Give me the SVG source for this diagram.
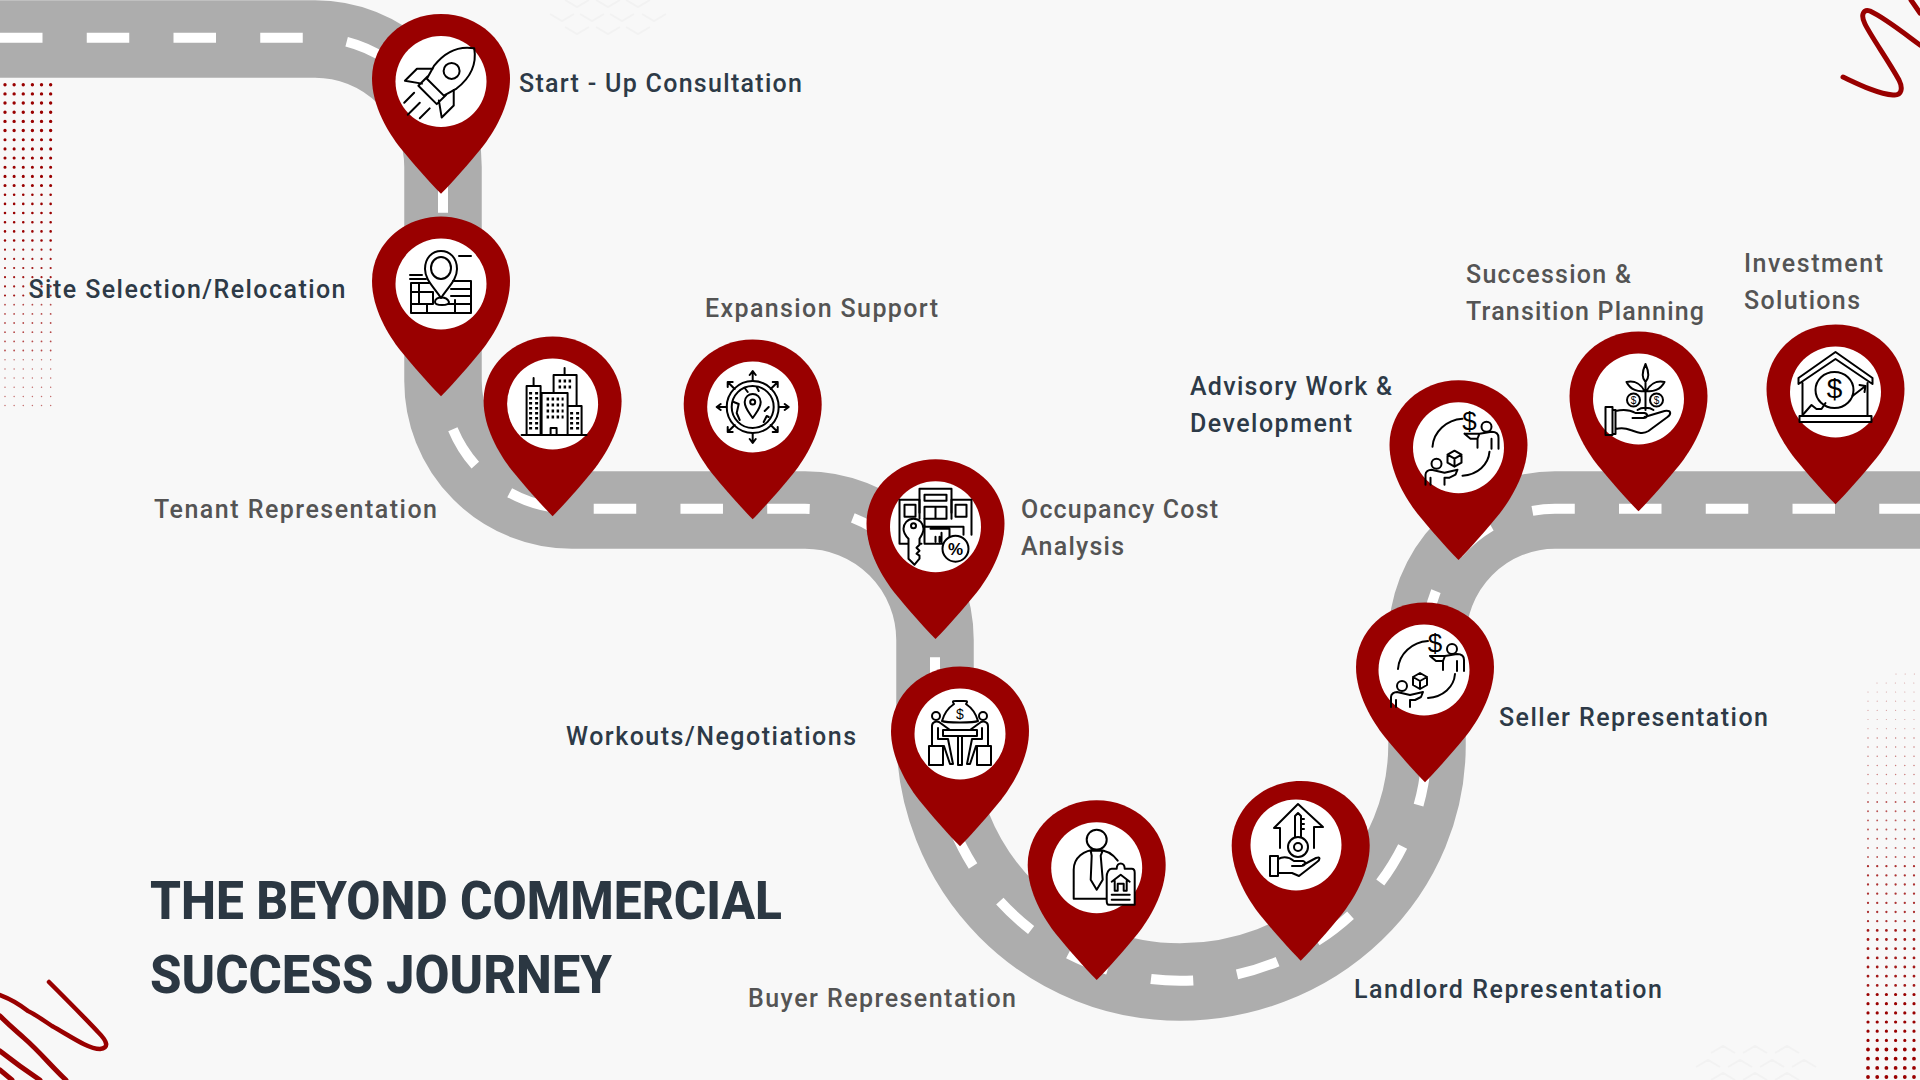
<svg xmlns="http://www.w3.org/2000/svg" xmlns:xlink="http://www.w3.org/1999/xlink" width="1920" height="1080" viewBox="0 0 1920 1080">
<style>
.bg{fill:#f8f8f8}
.road{fill:none;stroke:#adadad;stroke-width:77.5}
.dash{fill:none;stroke:#fff;stroke-width:10;stroke-dasharray:42.5 44.25}
.pin{fill:#990000}
.disc{fill:#fff}
.ic{fill:none;stroke:#000;stroke-width:2;stroke-linejoin:round;stroke-linecap:round}
.win{fill:none;stroke:#000;stroke-width:3;stroke-dasharray:2.5 2.5}
.sym{font-family:"Liberation Sans",Arial,sans-serif;fill:#000;stroke:none;text-anchor:middle}
.lb{font-family:Roboto,"Liberation Sans",sans-serif;font-weight:500;font-size:25px}
.d{fill:#2d3a47}
.g{fill:#545454}
.title{font-family:Roboto,"Liberation Sans",sans-serif;font-weight:800;font-size:53px;fill:#2b3742}
.squig{fill:none;stroke:#990000;stroke-linecap:round;stroke-linejoin:round}
.chev{fill:none;stroke:#f2f2f2;stroke-width:2}
.dots{fill:none;stroke:#990000;stroke-linecap:round}
</style>
<defs>
<path id="pin" class="pin" d="M0,112.3 C-12,100 -28,82 -41,66 C-52,52 -69,25 -69,-3 C-69,-39 -38,-67.5 0,-67.5 C38,-67.5 69,-39 69,-3 C69,25 52,52 41,66 C28,82 12,100 0,112.3 Z"/>
<g id="deal">
<path class="ic" d="M4,-29 C-12,-28 -25,-16 -26,-1 M31,4 C30,17 19,27 4,28"/>
<text class="sym" x="11" y="-18" font-size="26">$</text>
<circle class="ic" cx="28" cy="-21" r="5"/>
<path class="ic" d="M6,-14 L12,-9 L19,-9 V0 M19,-9 L21,-14 L33,-16 C37,-16 40,-14 40,-10 V1 M33,-9 V1 M6,-14 L21,-14"/>
<path class="ic" d="M-4,3 L3,7 V15 L-4,19 L-11,15 V7 Z M-11,7 L-4,11 L3,7 M-4,11 V19"/>
<circle class="ic" cx="-22" cy="16" r="5"/>
<path class="ic" d="M-33,37 V27 C-33,24 -30,22 -27,22 L-14,25 L-1,22 L-3,27 L-9,30 L-14,30 V37 M-28,30 V37"/>
</g>
</defs>
<rect class="bg" width="1920" height="1080"/>

<g id="texture">
<path class="chev" d="M565,0 L577,7 L589,0 M596,0 L608,7 L620,0 M626,0 L638,7 L650,0 M550,14 L562,21 L574,14 M580,14 L592,21 L604,14 M610,14 L622,21 L634,14 M642,14 L654,21 L666,14 M565,27 L577,34 L589,27 M596,27 L608,34 L620,27 M626,27 L638,34 L650,27"/>
<path class="chev" d="M1711,1053 L1723,1046 L1735,1053 M1743,1053 L1755,1046 L1767,1053 M1775,1053 L1787,1046 L1799,1053 M1696,1067 L1708,1060 L1720,1067 M1728,1067 L1740,1060 L1752,1067 M1760,1067 L1772,1060 L1784,1067 M1792,1067 L1804,1060 L1816,1067 M1711,1080 L1723,1073 L1735,1080 M1743,1080 L1755,1073 L1767,1080 M1775,1080 L1787,1073 L1799,1080"/>
<g class="dots" id="dots-left" stroke-dasharray="0 9.13">
<path stroke-width="3.4" d="M5,84.7H51M5,93.9H51M5,103H51M5,112.2H51M5,121.4H51M5,130.5H51"/>
<path stroke-width="3.1" d="M5,139.7H51M5,148.9H51M5,158H51M5,167.2H51M5,176.4H51M5,185.5H51"/>
<path stroke-width="2.6" d="M5,194.7H51M5,203.9H51M5,213H51M5,222.2H51M5,231.4H51M5,240.5H51"/>
<path stroke-width="2.2" opacity=".9" d="M5,249.7H51M5,258.9H51M5,268H51M5,277.2H51M5,286.4H51M5,295.5H51"/>
<path stroke-width="1.8" opacity=".7" d="M5,304.7H51M5,313.9H51M5,323H51M5,332.2H51M5,341.4H51M5,350.5H51"/>
<path stroke-width="1.5" opacity=".55" d="M5,359.7H51M5,368.9H51M5,378H51M5,387.2H51M5,396.4H51M5,405.5H51"/>
</g>
<g class="dots" id="dots-right" stroke-dasharray="0 9.2">
<path stroke-width="1.2" opacity=".35" d="M1896,674H1915M1877,683H1915M1868,692H1915M1868,701.2H1915M1868,710.4H1915M1868,719.5H1915M1868,728.7H1915"/>
<path stroke-width="1.5" opacity=".5" d="M1868,737.9H1915M1868,747H1915M1868,756.2H1915M1868,765.4H1915M1868,774.5H1915M1868,783.7H1915M1868,792.9H1915"/>
<path stroke-width="1.9" opacity=".65" d="M1868,802H1915M1868,811.2H1915M1868,820.4H1915M1868,829.5H1915M1868,838.7H1915M1868,847.9H1915M1868,857H1915"/>
<path stroke-width="2.3" opacity=".8" d="M1868,866.2H1915M1868,875.4H1915M1868,884.5H1915M1868,893.7H1915M1868,902.9H1915M1868,912H1915M1868,921.2H1915"/>
<path stroke-width="2.8" opacity=".9" d="M1868,930.4H1915M1868,939.5H1915M1868,948.7H1915M1868,957.9H1915M1868,967H1915M1868,976.2H1915M1868,985.4H1915"/>
<path stroke-width="3.2" d="M1868,994.5H1915M1868,1003.7H1915M1868,1012.9H1915M1868,1022H1915M1868,1031.2H1915M1868,1040.4H1915"/>
<path stroke-width="3.8" d="M1868,1049.5H1915M1868,1058.7H1915M1868,1067.9H1915M1868,1077H1915"/>
</g>
<g id="squiggles">
<path class="squig" stroke-width="5" d="M1843,77 C1858,84 1878,94 1893,95 C1902,96 1903,88 1899,80 C1888,60 1872,38 1865,24 C1860,14 1864,9 1870,11 C1885,18 1905,34 1920,45"/>
<path class="squig" stroke-width="5" d="M1911,0 L1920,13"/>
<path class="squig" stroke-width="4.5" d="M49,982 C65,998 85,1018 98,1032 C108,1042 109,1048 100,1049 C88,1049 70,1036 52,1026 C40,1018 33,1013 28,1011 C18,1003 8,998 0,995"/>
<path class="squig" stroke-width="5" d="M0,1016 C10,1026 15,1030 24,1038 C40,1052 52,1067 66,1080"/>
<path class="squig" stroke-width="5" d="M0,1051 C14,1062 28,1072 40,1080"/>
<path class="squig" stroke-width="5" d="M0,1070 L12,1080"/>
</g>
</g>

<g id="connectors">
<path class="road" d="M0,39 H315 A128,128 0 0 1 443,167 V381 A129,129 0 0 0 572,510 H805 A130,130 0 0 1 935,640 V735 A245,247 0 0 0 1180,982 A247,237 0 0 0 1427,745 V640 A128,130 0 0 1 1555,510 H1920"/>
<path class="dash" transform="translate(0,-1.2)" d="M0,39 H315 A128,128 0 0 1 443,167 V381 A129,129 0 0 0 572,510 H805 A130,130 0 0 1 935,640 V735 A245,247 0 0 0 1180,982 A247,237 0 0 0 1427,745 V640 A128,130 0 0 1 1555,510 H1920"/>
</g>

<g id="node-startup">
<use href="#pin" x="441" y="81.5"/><circle class="disc" cx="441" cy="81.5" r="45.5"/>
<g transform="translate(441,81.5) rotate(45)" class="ic">
<path d="M0,-47 C14,-37 18,-22 16,-6 L12,8 H-12 L-16,-6 C-18,-22 -14,-37 0,-47 Z"/>
<circle cx="0" cy="-15" r="8"/>
<path d="M-13,6 V19 H13 V6 M-15,-3 L-26,8 V25 L-12,15 M15,-3 L26,8 V25 L12,15"/>
<path d="M-11,27 V41 M0,30 V47 M11,27 V41"/>
</g>
<text class="lb d" x="519" y="92" textLength="283" lengthAdjust="spacing">Start - Up Consultation</text>
</g>

<g id="node-site-selection">
<text class="lb d" x="28.5" y="297.5" textLength="317" lengthAdjust="spacing">Site Selection/Relocation</text>
<use href="#pin" x="441" y="284"/><circle class="disc" cx="441" cy="284" r="45.5"/>
<g transform="translate(441,284)" class="ic">
<path d="M0,14 C-7,3 -16,-4 -16,-15 C-16,-26 -9,-33 0,-33 C9,-33 16,-26 16,-15 C16,-4 7,3 0,14 Z"/>
<ellipse cx="0" cy="-16" rx="10" ry="11"/>
<path d="M18,-28 H30 M-31,-9 H-19 M-31,-5 H-15"/>
<path d="M-30,-1 H-12 M12,-3 H30 V29 H-30 V-1 M-30,8 H-8 M-22,-1 V20 H-30 M-30,20 H-8 V8 M-14,20 V29 M14,16 V29 M-6,18 C-6,12 6,12 8,18 C8,22 -6,22 -6,18 Z M10,5 H30 M10,12 H30 M8,20 H30"/>
</g>
</g>

<g id="node-tenant">
<use href="#pin" x="552.6" y="404"/><circle class="disc" cx="552.6" cy="404" r="45.5"/>
<g transform="translate(552.6,404)">
<path class="ic" d="M-31,31 H34 M-26,31 V-18 H-12 V31 M-19,-18 V-26 M-11,-11 H15 M-11,-11 V31 M15,-11 V31 M1,-11 V-29 H24 V2 M12,-29 V-36 M15,2 H29 V31 M-2,31 V24 H4 V31"/>
<path class="win" d="M-22,-12 V26 M-16,-12 V26 M-6,-5 H11 M-6,1 H11 M-6,7 H11 M-6,13 H11 M6,-23 H20 M6,-17 H20 M19,8 V26 M25,8 V26"/>
</g>
<text class="lb g" x="154" y="518" textLength="283" lengthAdjust="spacing">Tenant Representation</text>
</g>

<g id="node-expansion">
<use href="#pin" x="752.7" y="407"/><circle class="disc" cx="752.7" cy="407" r="45.5"/>
<g transform="translate(752.7,407)" class="ic">
<circle r="26"/><circle r="21"/>
<path d="M0,-26 V-35 M-3,-32 L0,-36 L3,-32 M0,26 V35 M-3,32 L0,36 L3,32 M-26,0 H-35 M-32,-3 L-36,0 L-32,3 M26,0 H35 M32,-3 L36,0 L32,3 M-18,-18 L-24,-24 M-25,-20 V-25 H-20 M18,-18 L24,-24 M25,-20 V-25 H20 M-18,18 L-24,24 M-25,20 V25 H-20 M18,18 L24,24 M25,20 V25 H20"/>
<path d="M0,11 C-4,5 -8,1 -8,-5 C-8,-10 -4,-13 0,-13 C4,-13 8,-10 8,-5 C8,1 4,5 0,11 Z"/><circle cy="-5" r="2.5"/>
<path d="M-19,-5 L-14,-3 L-16,6 L-13,13 M-8,-19 L-5,-15 M4,-20 L6,-16 M12,4 L16,0 M11,15 L14,9 L16,10"/>
</g>
<text class="lb g" x="705" y="317" textLength="233" lengthAdjust="spacing">Expansion Support</text>
</g>

<g id="node-occupancy">
<use href="#pin" x="935.5" y="526.7"/><circle class="disc" cx="935.5" cy="526.7" r="45.5"/>
<g transform="translate(935.5,526.7)" class="ic">
<path d="M-16,-14 V-38 H16 V-14 M-11,-32 H11 V-26 H-11 Z M-11,-20 H11 V-8 H-11 Z M0,-20 V-8"/>
<path d="M-16,-27 H-36 V17 H-14 M16,-27 H36 V8 M-31,-22 H-20 V-10 H-31 Z M20,-22 H31 V-10 H20 Z M-16,-27 V-8 M16,-27 V-8 M-11,-8 V17 H8 M-5,2 H14 V17 M6,6 V17 M0,10 V15 M4,10 V15 M-10,0 H28 V8"/>
<path d="M-22,-8 C-28,-8 -32,-3 -32,2 C-32,7 -29,10 -27,12 L-27,32 L-21,38 L-16,32 V29 L-19,27 L-16,24 L-19,21 L-16,18 V12 C-14,9 -12,6 -12,2 C-12,-3 -16,-8 -22,-8 Z" fill="#fff"/><circle cx="-22" cy="-1" r="2.5"/>
<circle cx="20" cy="22" r="13" fill="#fff"/>
</g>
<text class="sym" x="955.5" y="554.7" font-size="17" font-weight="700">%</text>
<text class="lb g" x="1021" y="518" textLength="197" lengthAdjust="spacing">Occupancy Cost</text>
<text class="lb g" x="1021" y="555" textLength="103" lengthAdjust="spacing">Analysis</text>
</g>

<g id="node-workouts">
<text class="lb d" x="566" y="745" textLength="290" lengthAdjust="spacing">Workouts/Negotiations</text>
<use href="#pin" x="960" y="734"/><circle class="disc" cx="960" cy="734" r="45.5"/>
<g transform="translate(960,734)" class="ic">
<path d="M-6,-30 C-9,-34 -5,-33 0,-33 C5,-33 9,-34 6,-30 C12,-26 16,-20 18,-13 C14,-11 -14,-11 -18,-13 C-16,-20 -12,-26 -6,-30 Z"/>
<circle cx="-24" cy="-18" r="4"/><circle cx="23" cy="-18" r="4"/>
<path d="M-17,-4 H17 V2 H-17 Z M-2,2 V31 H2 V2 M-31,31 V12 H-17 V31 Z M17,31 V12 H31 V31 Z"/>
<path d="M-28,12 V-8 C-28,-12 -24,-13 -21,-12 L-10,-4 M28,12 V-8 C28,-12 24,-13 21,-12 L10,-4 M-22,-6 V5 H-12 L-7,30 H-10 L-16,12 M22,-6 V5 H12 L7,30 H10 L16,12"/>
</g>
<text class="sym" x="960" y="719" font-size="14">$</text>
</g>

<g id="node-buyer">
<use href="#pin" x="1096.7" y="867.7"/><circle class="disc" cx="1096.7" cy="867.7" r="45.5"/>
<g transform="translate(1096.7,867.7)" class="ic">
<circle cx="0" cy="-28" r="10"/>
<path d="M-23,31 V2 C-23,-10 -13,-18 0,-18 C8,-18 16,-14 21,-7 M-23,31 H10 M-6,-17 L-5,-12 L-6,12 L0,22 L6,12 L4,-12 L6,-17 Z"/>
<path d="M10,9 C10,5 12,1 15,1 H20 C20,-6 28,-6 28,1 H35 C37,1 38,3 38,5 V37 H12 C10,37 10,35 10,33 Z" fill="#fff"/>
<path d="M15,14 L24,7 L33,14 M18,13 V23 H21 V16 H27 V23 H30 V13 M15,27 H33 M15,32 H33"/>
</g>
<text class="lb g" x="748" y="1007" textLength="268" lengthAdjust="spacing">Buyer Representation</text>
</g>

<g id="node-landlord">
<use href="#pin" x="1300.7" y="848.5"/><circle class="disc" cx="1296" cy="845" r="45.5"/>
<g transform="translate(1296,845)" class="ic">
<path d="M-16,3 V-17 H-22 L2,-41 L27,-18 H18 V3"/>
<circle cx="2" cy="2" r="10"/><circle cx="2" cy="2" r="4"/>
<path d="M-1,-8 V-29 L2,-32 L5,-29 V-8 M5,-26 H8 M5,-21 H8 M5,-16 H8"/>
<path d="M-26,11 H-18 V31 H-26 Z M-18,14 C-12,11 -7,12 -2,16 H7 C11,17 9,21 5,21 H-4 M7,20 L20,13 C25,11 24,15 21,17 L3,31 L-4,28 H-18"/>
</g>
<text class="lb d" x="1354" y="998" textLength="308" lengthAdjust="spacing">Landlord Representation</text>
</g>

<g id="node-seller">
<use href="#pin" x="1425" y="670"/><circle class="disc" cx="1424" cy="670" r="45.5"/>
<use href="#deal" x="1424" y="670"/>
<text class="lb d" x="1499" y="725.5" textLength="269" lengthAdjust="spacing">Seller Representation</text>
</g>

<g id="node-advisory">
<use href="#pin" x="1458.5" y="447.7"/><circle class="disc" cx="1458.5" cy="447.7" r="45.5"/>
<use href="#deal" x="1458.5" y="447.7"/>
<text class="lb d" x="1190" y="395" textLength="202" lengthAdjust="spacing">Advisory Work &amp;</text>
<text class="lb d" x="1190" y="432" textLength="162" lengthAdjust="spacing">Development</text>
</g>

<g id="node-succession">
<use href="#pin" x="1638.5" y="399"/><circle class="disc" cx="1638.5" cy="399" r="45.5"/>
<g transform="translate(1638.5,399)" class="ic">
<path d="M-33,8 H-26 V36 H-33 Z M-26,11 H-23 V35 H-26 M-23,12 C-15,10 -8,11 -3,14 H6 C10,15 9,19 5,19 H-6 M6,18 L26,12 C33,11 33,15 29,18 L10,32 C4,36 -2,33 -8,31 C-13,29 -18,29 -23,30"/>
<path d="M7,11 V-16 M7,-17 C3,-21 3,-26 7,-35 C11,-26 11,-21 7,-17 Z M6,-8 C0,-7 -8,-9 -12,-17 C-3,-19 3,-14 6,-8 Z M8,-8 C14,-7 22,-9 26,-17 C17,-19 11,-14 8,-8 Z M-1,11 C3,8 11,8 15,11"/>
<circle cx="-5" cy="1" r="6.5"/><circle cx="18" cy="1" r="6.5"/>
</g>
<text class="sym" x="1633.5" y="404" font-size="10">$</text>
<text class="sym" x="1656.5" y="404" font-size="10">$</text>
<text class="lb g" x="1466" y="283" textLength="165" lengthAdjust="spacing">Succession &amp;</text>
<text class="lb g" x="1466" y="320" textLength="238" lengthAdjust="spacing">Transition Planning</text>
</g>

<g id="node-investment">
<use href="#pin" x="1835.5" y="392"/><circle class="disc" cx="1835.5" cy="392" r="45.5"/>
<g transform="translate(1835.5,392)" class="ic">
<path d="M0,-40 L37,-14 V-8 L0,-33 L-37,-8 V-14 Z M-33,-9 V24 M32,-9 V24 M-36,24 H36 V30 H-36 Z"/>
<ellipse cx="-1" cy="-2" rx="19" ry="18"/>
<path d="M-32,22 L-24,13 L-19,17 L-14,17 L-10,11 M17,4 L30,-6 M24,-7 L30,-6 L29,0"/>
</g>
<text class="sym" x="1834.5" y="398" font-size="28">$</text>
<text class="lb g" x="1744" y="272" textLength="139" lengthAdjust="spacing">Investment</text>
<text class="lb g" x="1744" y="309" textLength="116" lengthAdjust="spacing">Solutions</text>
</g>

<g id="title">
<text class="title" x="150" y="919" textLength="632" lengthAdjust="spacingAndGlyphs">THE BEYOND COMMERCIAL</text>
<text class="title" x="150" y="993" textLength="462" lengthAdjust="spacingAndGlyphs">SUCCESS JOURNEY</text>
</g>
</svg>
